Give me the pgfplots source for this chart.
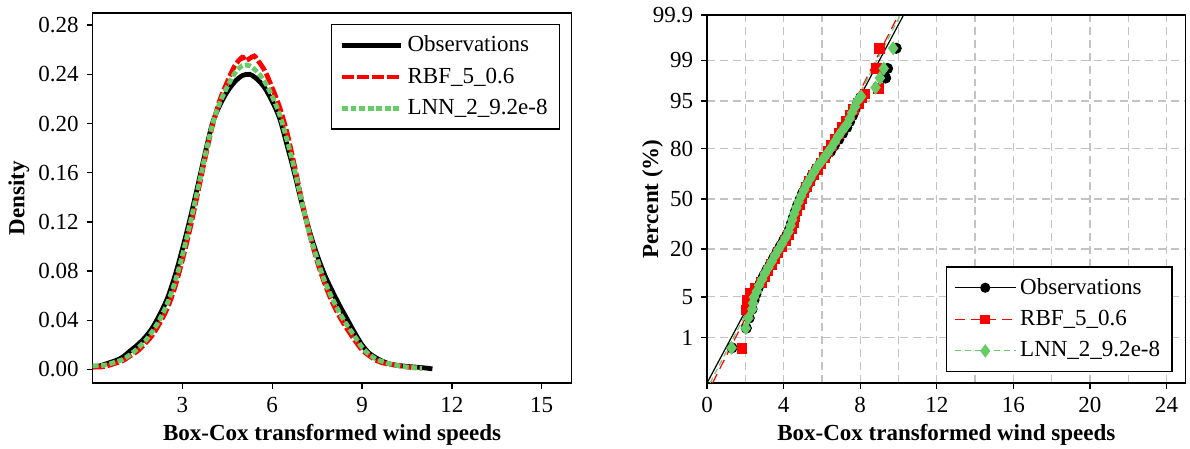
\documentclass[border=0pt]{standalone}
\usepackage{fontspec}
\setmainfont{Liberation Serif}
\usepackage{pgfplots}
\pgfplotsset{compat=1.18}
\definecolor{lgreen}{RGB}{102,204,102}
\definecolor{gridgray}{RGB}{195,195,195}
\begin{document}
\fontsize{11.6}{13.5}\selectfont
\begin{tikzpicture}
\useasboundingbox (0,0) rectangle (600pt,225.9pt);
\pgfplotsset{every axis/.append style={
  font=\fontsize{11.6}{13.5}\selectfont,
  /pgf/number format/assume math mode=true,
  scale only axis, tick align=outside, tick pos=left,
  major tick length=3pt, minor tick length=0pt,
  axis line style={line width=0.7pt}, every tick/.style={black, line width=0.7pt},
  xlabel style={at={(axis description cs:0.5,-0.14)}, anchor=center, font=\fontsize{11.6}{13.5}\selectfont\bfseries},
  ylabel style={anchor=center, font=\fontsize{11.6}{13.5}\selectfont\bfseries},
  legend cell align=left,
}}
% ---------------- Left: density ----------------
\begin{axis}[at={(46.7pt,32.8pt)}, anchor=south west,
  width=241.5pt, height=186.6pt,
  xmin=0, xmax=16, ymin=-0.011, ymax=0.29,
  xtick={3,6,9,12,15},
  ytick={0,0.04,0.08,0.12,0.16,0.20,0.24,0.28},
  yticklabel style={/pgf/number format/.cd, fixed, fixed zerofill, precision=2},
  xlabel={Box-Cox transformed wind speeds}, ylabel={Density},
  ylabel style={at={(axis description cs:-0.154,0.5)}},
  legend style={at={(0.976,0.97)}, anchor=north east, draw=black, line width=0.7pt,
    row sep=2.4pt, inner xsep=4pt, inner ysep=3.5pt, font=\fontsize{11.6}{13.5}\selectfont},
  legend image code/.code={\draw[#1] (0cm,0cm) -- (1.05cm,0cm);},
]
\addplot[black, line width=2.4pt, smooth] coordinates {
(0,0.002)(0.25,0.003)(0.5,0.005)(0.75,0.007)(1.0,0.010)(1.25,0.015)(1.5,0.020)(1.75,0.026)
(2.0,0.034)(2.25,0.045)(2.5,0.058)(2.75,0.076)(3.0,0.098)(3.25,0.122)(3.5,0.148)(3.75,0.175)
(4.0,0.200)(4.25,0.215)(4.5,0.226)(4.75,0.234)(5.0,0.239)(5.25,0.240)(5.5,0.236)(5.75,0.229)
(6.0,0.218)(6.25,0.204)(6.5,0.182)(6.75,0.159)(7.0,0.134)(7.25,0.112)(7.5,0.093)(7.75,0.077)
(8.0,0.064)(8.25,0.052)(8.5,0.041)(8.75,0.030)(9.0,0.020)(9.25,0.013)(9.5,0.009)(9.75,0.006)
(10.0,0.004)(10.5,0.0025)(11.0,0.0015)(11.35,0.0005)};
\addlegendentry{Observations}
\addplot[red, line width=2.4pt, dash pattern=on 6pt off 1.5pt, smooth] coordinates {
(0,0.002)(0.25,0.002)(0.5,0.003)(0.75,0.005)(1.0,0.007)(1.25,0.011)(1.5,0.015)(1.75,0.021)
(2.0,0.028)(2.25,0.038)(2.5,0.050)(2.75,0.067)(3.0,0.089)(3.25,0.114)(3.5,0.142)(3.75,0.171)
(4.0,0.198)(4.25,0.219)(4.5,0.234)(4.75,0.247)(5.0,0.254)(5.1,0.251)(5.25,0.253)(5.4,0.255)
(5.5,0.252)(5.75,0.243)(6.0,0.229)(6.25,0.213)(6.5,0.192)(6.75,0.165)(7.0,0.136)(7.25,0.110)
(7.5,0.088)(7.75,0.070)(8.0,0.055)(8.25,0.043)(8.5,0.033)(8.75,0.024)(9.0,0.016)(9.25,0.011)
(9.5,0.007)(9.75,0.005)(10.0,0.004)(10.5,0.002)(11.0,0.001)};
\addlegendentry{RBF\_5\_0.6}
\addplot[lgreen, line width=2.4pt, dash pattern=on 3pt off 1.3pt, smooth] coordinates {
(0,0.003)(0.25,0.003)(0.5,0.004)(0.75,0.006)(1.0,0.008)(1.25,0.012)(1.5,0.017)(1.75,0.023)
(2.0,0.031)(2.25,0.041)(2.5,0.054)(2.75,0.071)(3.0,0.093)(3.25,0.118)(3.5,0.145)(3.75,0.173)
(4.0,0.199)(4.25,0.217)(4.5,0.230)(4.75,0.241)(5.0,0.247)(5.25,0.247)(5.5,0.242)(5.75,0.234)
(6.0,0.222)(6.25,0.207)(6.5,0.186)(6.75,0.162)(7.0,0.135)(7.25,0.110)(7.5,0.090)(7.75,0.072)
(8.0,0.058)(8.25,0.046)(8.5,0.036)(8.75,0.027)(9.0,0.018)(9.25,0.012)(9.5,0.008)(9.75,0.006)
(10.0,0.004)(10.5,0.002)(11.0,0.001)};
\addlegendentry{LNN\_2\_9.2e-8}
\end{axis}
% ---------------- Right: normal probability plot ----------------
\begin{axis}[at={(356.5pt,32.8pt)}, anchor=south west,
  width=241.3pt, height=185.6pt,
  xmin=0, xmax=25, ymin=-3.0902, ymax=3.0902,
  xtick={0,4,8,12,16,20,24}, minor x tick num=1,
  ytick={-2.3263,-1.6449,-0.8416,0,0.8416,1.6449,2.3263,3.0902},
  yticklabels={1,5,20,50,80,95,99,99.9},
  xmajorgrids, xminorgrids, ymajorgrids,
  major grid style={gridgray, line width=0.6pt, dash pattern=on 4pt off 2.5pt},
  minor grid style={gridgray, line width=0.6pt, dash pattern=on 4pt off 2.5pt},
  xlabel={Box-Cox transformed wind speeds}, ylabel={Percent (\%)},
  ylabel style={at={(axis description cs:-0.114,0.5)}},
  legend style={at={(0.973,0.03)}, anchor=south east, draw=black, line width=0.7pt,
    row sep=2.4pt, inner xsep=4pt, inner ysep=3.5pt, font=\fontsize{11.6}{13.5}\selectfont},
  legend image code/.code={\draw[mark repeat=2,mark phase=2,#1] plot coordinates {(0cm,0cm) (0.54cm,0cm) (1.08cm,0cm)};},
]
\addlegendimage{black, line width=0.5pt, mark=*, mark size=2.3pt, mark options={solid}}
\addlegendentry{Observations}
\addlegendimage{red, line width=0.5pt, dash pattern=on 5pt off 3pt, mark=square*, mark size=2.2pt, mark options={solid}}
\addlegendentry{RBF\_5\_0.6}
\addlegendimage{lgreen, line width=0.5pt, dash pattern=on 3pt off 2pt, mark=diamond*, mark size=3pt, mark options={solid}}
\addlegendentry{LNN\_2\_9.2e-8}
% fitted lines
\addplot[black, line width=0.6pt, forget plot] coordinates {(0,-3.0902)(10.27,3.0902)};
\addplot[red, line width=0.6pt, dash pattern=on 5pt off 3pt, forget plot] coordinates {(0.29,-3.0902)(10.0,3.0902)};
\addplot[lgreen, line width=0.6pt, dash pattern=on 3pt off 2pt, forget plot] coordinates {(0.16,-3.0902)(10.1,3.0902)};
% observations
\addplot[only marks, black, mark=*, mark size=2.6pt, forget plot] coordinates {
(1.30,-2.50)(2.05,-2.17)(2.20,-2.00)(2.35,-1.85)(2.45,-1.70)(2.55,-1.60)(2.66,-1.50)(2.80,-1.40)
(2.95,-1.30)(3.12,-1.20)(3.30,-1.10)(3.47,-1.00)(3.65,-0.90)(3.82,-0.80)(4.00,-0.70)(4.18,-0.60)
(4.32,-0.50)(4.42,-0.40)(4.52,-0.30)(4.63,-0.20)(4.74,-0.10)(4.87,0.00)(5.00,0.10)(5.16,0.20)
(5.32,0.30)(5.50,0.40)(5.70,0.50)(5.92,0.60)(6.18,0.70)(6.45,0.80)(6.65,0.90)(6.88,1.00)
(7.08,1.10)(7.30,1.20)(7.45,1.30)(7.60,1.40)(7.72,1.50)(7.86,1.60)(8.02,1.70)
(9.33,2.03)(9.43,2.19)(9.88,2.53)};
% RBF
\addplot[only marks, red, mark=square*, mark size=2.4pt, forget plot] coordinates {
(1.83,-2.51)(2.02,-1.86)(2.12,-1.70)(2.26,-1.58)(2.50,-1.50)(2.85,-1.40)(3.02,-1.30)(3.18,-1.20)
(3.35,-1.10)(3.55,-1.00)(3.70,-0.90)(3.90,-0.80)(4.08,-0.70)(4.25,-0.60)(4.40,-0.50)(4.50,-0.40)
(4.60,-0.30)(4.70,-0.20)(4.82,-0.10)(4.95,0.00)(5.05,0.10)(5.20,0.20)(5.35,0.30)(5.55,0.40)
(5.75,0.50)(5.95,0.60)(6.12,0.70)(6.30,0.80)(6.50,0.90)(6.68,1.00)(6.88,1.10)(7.05,1.20)
(7.25,1.30)(7.45,1.40)(7.65,1.50)(7.90,1.60)(8.10,1.70)(8.25,1.76)
(8.94,1.86)(8.84,2.19)(9.00,2.53)};
% LNN
\addplot[only marks, lgreen, mark=diamond*, mark size=3.2pt, forget plot] coordinates {
(1.28,-2.50)(2.02,-2.17)(2.16,-2.00)(2.36,-1.85)(2.40,-1.75)(2.45,-1.65)(2.60,-1.55)(2.72,-1.45)
(2.88,-1.35)(3.02,-1.25)(3.20,-1.15)(3.38,-1.05)(3.55,-0.95)(3.73,-0.85)(3.92,-0.75)(4.10,-0.65)
(4.26,-0.55)(4.36,-0.45)(4.45,-0.35)(4.55,-0.25)(4.67,-0.15)(4.78,-0.05)(4.92,0.05)(5.07,0.15)
(5.22,0.25)(5.40,0.35)(5.58,0.45)(5.78,0.55)(6.02,0.65)(6.25,0.75)(6.47,0.85)(6.66,0.95)
(6.85,1.05)(7.07,1.15)(7.30,1.25)(7.45,1.35)(7.58,1.45)(7.72,1.55)(7.86,1.65)(8.05,1.72)
(8.80,1.87)(9.03,2.03)(9.23,2.19)(9.72,2.53)};
\end{axis}
\end{tikzpicture}
\end{document}
